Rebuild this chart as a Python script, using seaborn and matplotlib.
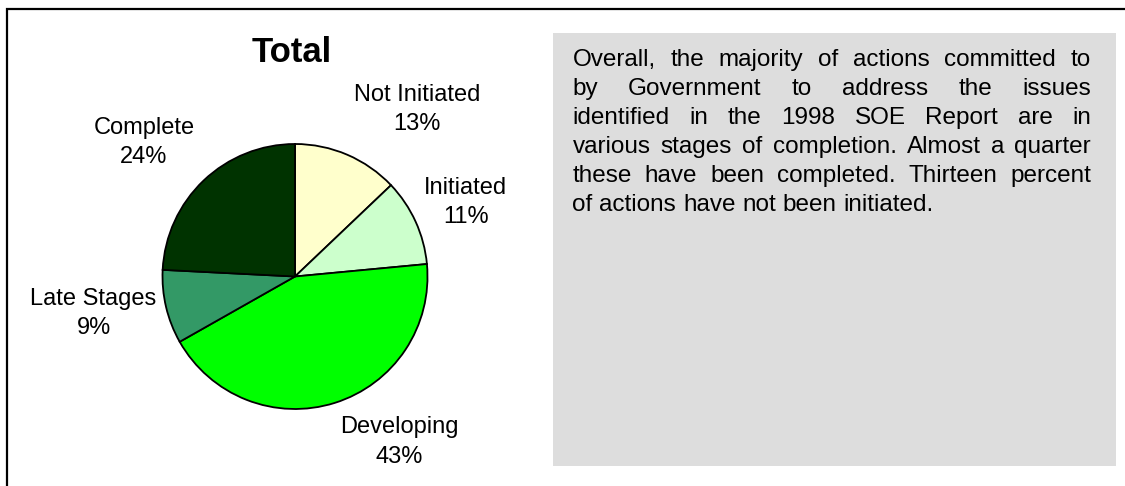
import matplotlib
matplotlib.use("Agg")
import matplotlib.pyplot as plt
from matplotlib.patches import Rectangle
import seaborn as sns

# --- Data ---
categories = ["Not Initiated", "Initiated", "Developing", "Late Stages", "Complete"]
shares = [12.9, 10.6, 43.3, 9.0, 24.2]
slice_colors = ["#FFFFCC", "#CCFFCC", "#00FF00", "#339966", "#003300"]
chart_title = "Total"
note_lines = [
    "Overall, the majority of actions committed to",
    "by Government to address the issues",
    "identified in the 1998 SOE Report are in",
    "various stages of completion. Almost a quarter",
    "these have been completed. Thirteen percent",
    "of actions have not been initiated.",
]

# label anchors, in pie-radius units from the centre
label_xy = [(0.92, 1.26), (1.29, 0.56), (0.79, -1.25), (-1.52, -0.28), (-1.14, 1.01)]

sns.set_style("white")
plt.rcParams["font.family"] = ["Liberation Sans", "DejaVu Sans"]
plt.rcParams["text.color"] = "black"

W, H = 1125, 486
fig = plt.figure(figsize=(W / 100, H / 100), dpi=100)

# --- Pie ---
cx, cy, r = 295, 276.5, 132.5
span = 1.7
side = 2 * r * span
ax = fig.add_axes([(cx - side / 2) / W, (H - cy - side / 2) / H, side / W, side / H])
wedges, _ = ax.pie(shares, colors=slice_colors, startangle=90, counterclock=False,
                   wedgeprops=dict(edgecolor="black", linewidth=1.3))
ax.set_xlim(-span, span)
ax.set_ylim(-span, span)
ax.set_aspect("equal")
ax.axis("off")

for name, share, (lx, ly) in zip(categories, shares, label_xy):
    ax.text(lx, ly, f"{name}\n{share:.0f}%", ha="center", va="center",
            fontsize=17, linespacing=1.43, color="black")

fig.text(292 / W, 1 - 62 / H, chart_title, ha="center", va="baseline",
         fontsize=25, fontweight="bold", color="black")

# --- Frame and note box ---
fig.add_artist(Rectangle((6.5 / W, -0.05), 1.2, (H - 9) / H + 0.05, fill=False,
                         edgecolor="black", linewidth=1.6, transform=fig.transFigure))
fig.add_artist(Rectangle((553 / W, 1 - 466 / H), (1116 - 553) / W, (466 - 32.7) / H,
                         facecolor="#DDDDDD", edgecolor="none", transform=fig.transFigure,
                         zorder=0))

# justified paragraph
fig.canvas.draw()
renderer = fig.canvas.get_renderer()
note_size = 17.5
probe_a = fig.text(0, 0, "a a", fontsize=note_size)
probe_b = fig.text(0, 0, "aa", fontsize=note_size)
space_w = probe_a.get_window_extent(renderer).width - probe_b.get_window_extent(renderer).width
probe_a.remove()
probe_b.remove()

x_left, x_right = 572.5, 1091
for i, line in enumerate(note_lines):
    y = 1 - (66 + 29 * i) / H
    words = line.split()
    texts = [fig.text(0, y, w, fontsize=note_size, ha="left", va="baseline", color="black")
             for w in words]
    widths = [t.get_window_extent(renderer).width for t in texts]
    if i == len(note_lines) - 1:
        gap = space_w
    else:
        gap = (x_right - x_left - sum(widths)) / (len(words) - 1)
    x = x_left
    for t, w in zip(texts, widths):
        t.set_x(x / W)
        x += w + gap

fig.savefig("out.png", dpi=100)
